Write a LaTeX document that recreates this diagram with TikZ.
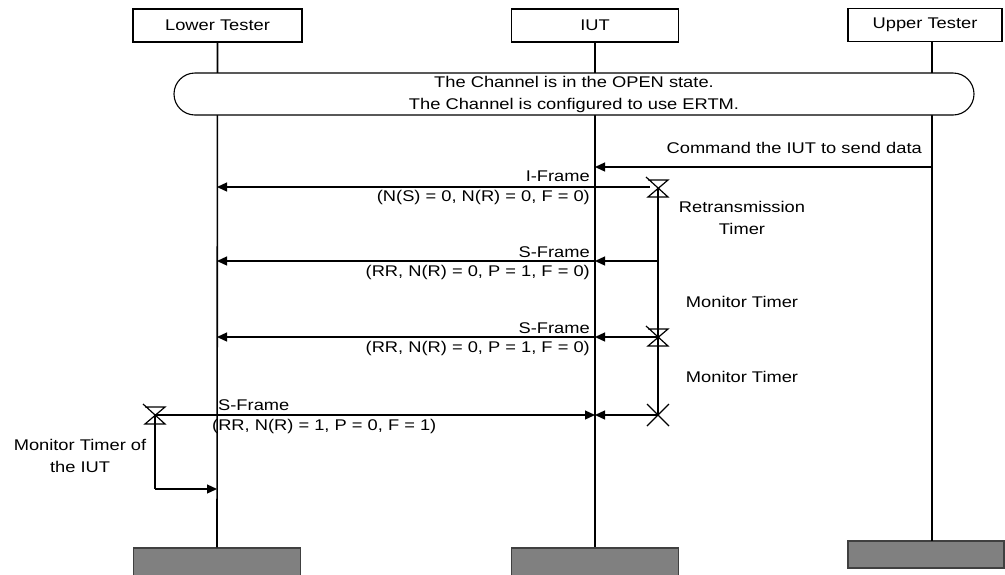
\documentclass[tikz,border=0pt]{standalone}
\usepackage{fontspec}
\setmainfont{Liberation Sans}[FakeStretch=1.18]
\usetikzlibrary{arrows.meta}
\begin{document}
\begin{tikzpicture}[x=1pt,y=-1pt,
  font=\fontsize{15.5}{22}\selectfont,
  hdr/.style={draw, line width=1.1pt, minimum height=33pt, inner sep=0pt},
  foot/.style={draw=black!75, fill=black!50, line width=1.1pt, inner sep=0pt},
  life/.style={line width=1.6pt},
  msg/.style={line width=1.3pt, -{Triangle[length=10pt,width=9pt]}},
  tline/.style={line width=1.3pt},
  lbl/.style={inner sep=0pt},
  hourglass/.pic={\draw[line width=1.2pt] (-10,-8) -- (10,-8) -- (-10,9) -- (10,9) -- (-12,-11);},
  xmark/.pic={\draw[line width=1.2pt] (-11,-11) -- (11,11) (-11,11) -- (11,-11);}]
\useasboundingbox (0,0) rectangle (1005,574);

% headers
\node[hdr, minimum width=169pt] (lt) at (217.5,25.5) {Lower Tester};
\node[hdr, minimum width=167pt] (iut) at (595,25.5) {IUT};
\node[hdr, minimum width=154pt] (ut) at (925,25) {Upper Tester};

% footers
\node[foot, minimum width=167pt, minimum height=34pt] (ltb) at (217,565) {};
\node[foot, minimum width=167pt, minimum height=34pt] (iutb) at (595,565) {};
\node[foot, minimum width=156pt, minimum height=27pt] (utb) at (926,554.5) {};

% lifelines
\coordinate (utt) at (932,41.5);
\coordinate (utbt) at (932,541);
\draw[life] (lt.south) -- (ltb.north);
\draw[life] (iut.south) -- (iutb.north);
\draw[life] (utt) -- (utbt);

% condition
\node[draw, line width=1.1pt, fill=white, rounded corners=21pt, minimum width=800pt,
      minimum height=42pt, align=center, inner sep=0pt] (cond) at (574,94)
  {The Channel is in the OPEN state.\\The Channel is configured to use ERTM.};

% command
\coordinate (cu) at (932,167);
\coordinate (ci) at (595,167);
\draw[msg] (cu) -- (ci);
\node[lbl, anchor=east] (cmd) at (922,148) {Command the IUT to send data};

% timer on IUT side
\coordinate (t1) at (658,188);
\coordinate (t2) at (658,337);
\coordinate (x1) at (658,415);
\draw[tline] (t1) -- (x1);
\pic at (t1) {hourglass};
\pic at (t2) {hourglass};
\pic at (x1) {xmark};

% I-Frame
\coordinate (if0) at (650,187);
\coordinate (ifl) at (217,187);
\draw[msg] (if0) -- (ifl);
\node[lbl, anchor=east] (ifa) at (590,176) {I-Frame};
\node[lbl, anchor=east] (ifb) at (590,197) {(N(S) = 0, N(R) = 0, F = 0)};

% S-Frame 1
\coordinate (s1t) at (658,261);
\coordinate (s1i) at (595,261);
\coordinate (s1l) at (217,261);
\draw[msg] (s1t) -- (s1i);
\draw[msg] (s1i) -- (s1l);
\node[lbl, anchor=east] (s1a) at (590,252) {S-Frame};
\node[lbl, anchor=east] (s1b) at (590,272) {(RR, N(R) = 0, P = 1, F = 0)};

% S-Frame 2
\coordinate (s2i) at (595,337);
\coordinate (s2l) at (217,337);
\draw[msg] (t2) -- (s2i);
\draw[msg] (s2i) -- (s2l);
\node[lbl, anchor=east] (s2a) at (590,328) {S-Frame};
\node[lbl, anchor=east] (s2b) at (590,348) {(RR, N(R) = 0, P = 1, F = 0)};

% timer labels
\node[lbl, align=center] (rt) at (742,217.5) {Retransmission\\Timer};
\node[lbl] (mt1) at (742,302) {Monitor Timer};
\node[lbl] (mt2) at (742,377) {Monitor Timer};

% final S-Frame
\coordinate (lh) at (155,415);
\coordinate (fi) at (595,415);
\coordinate (lhb) at (155,489);
\coordinate (lhe) at (217,489);
\draw[msg] (lh) -- (fi);
\draw[msg] (x1) -- (fi);
\draw[tline] (lh) -- (lhb);
\draw[msg] (lhb) -- (lhe);
\pic at (lh) {hourglass};
\node[lbl, anchor=west] (s3a) at (218,405) {S-Frame};
\node[lbl, anchor=west] (s3b) at (212,426) {(RR, N(R) = 1, P = 0, F = 1)};
\node[lbl, align=center] (mtl) at (80,456) {Monitor Timer of\\the IUT};
\end{tikzpicture}
\end{document}
